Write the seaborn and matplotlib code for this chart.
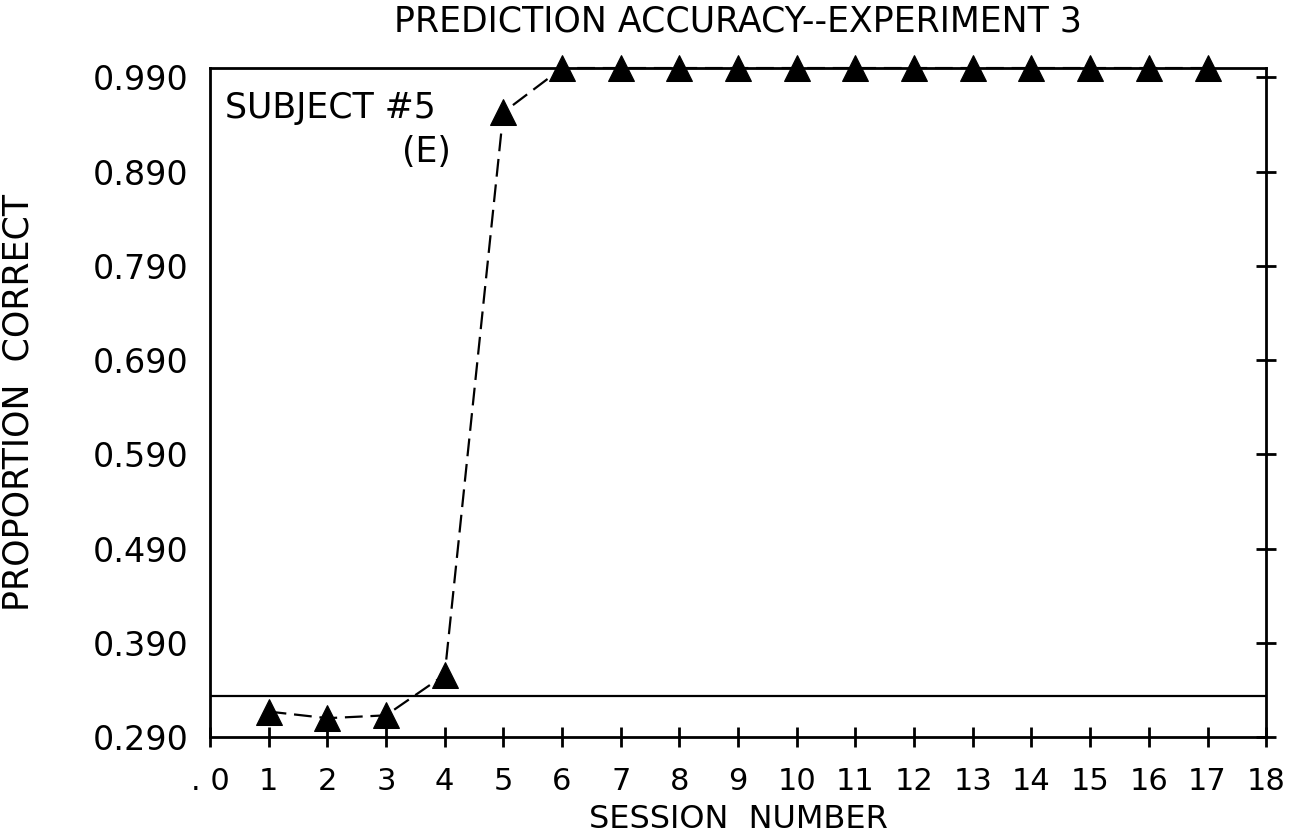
import matplotlib
matplotlib.use("Agg")
import matplotlib.pyplot as plt
import seaborn as sns
import numpy as np
import pandas as pd

# Session-by-session prediction accuracy for subject #5
sessions = [1, 2, 3, 4, 5, 6, 7, 8, 9, 10, 11, 12, 13, 14, 15, 16, 17]
proportion = [0.317, 0.310, 0.313, 0.356, 0.953, 1.0, 1.0, 1.0, 1.0, 1.0,
              1.0, 1.0, 1.0, 1.0, 1.0, 1.0, 1.0]
chance_level = 1 / 3

x_ticks = list(range(0, 19))
x_tick_labels = [". 0"] + [str(i) for i in range(1, 19)]
y_ticks = [0.29, 0.39, 0.49, 0.59, 0.69, 0.79, 0.89, 0.99]
y_tick_labels = ["0.290", "0.390", "0.490", "0.590", "0.690", "0.790", "0.890", "0.990"]

sns.set_style("white")
plt.rcParams["font.family"] = ["DejaVu Sans"]
plt.rcParams["text.color"] = "black"
plt.rcParams["axes.labelcolor"] = "black"

df = pd.DataFrame({"session": sessions, "proportion": proportion})

fig = plt.figure(figsize=(12.96, 8.40), dpi=100)
ax = fig.add_axes([0.162, 0.1226, 0.815, 0.7964])

sns.lineplot(data=df, x="session", y="proportion", ax=ax, color="black",
             linewidth=1.6, linestyle=(0, (8, 3.5)), marker="^", markersize=19,
             markeredgecolor="black", markerfacecolor="black", clip_on=False)

ax.axhline(chance_level, color="black", linewidth=1.6)

ax.set_xlim(0, 18)
ax.set_ylim(0.29, 1.0)
ax.set_xticks(x_ticks)
ax.set_xticklabels(x_tick_labels)
ax.set_yticks(y_ticks)
ax.set_yticklabels(y_tick_labels)

for side in ["left", "right", "top", "bottom"]:
    ax.spines[side].set_visible(True)
    ax.spines[side].set_color("black")
    ax.spines[side].set_linewidth(2.0)

ax.tick_params(axis="both", direction="inout", length=15, width=2.0, colors="black")
ax.tick_params(axis="y", right=True, labelright=False, labelsize=24, pad=8)
ax.tick_params(axis="x", bottom=True, top=False, labelsize=22, pad=14)

ax.set_xlabel("SESSION  NUMBER", fontsize=23, labelpad=6)
ax.set_ylabel("PROPORTION  CORRECT", fontsize=25)
ax.yaxis.set_label_coords(-0.165, 0.5)
ax.set_title("PREDICTION ACCURACY--EXPERIMENT 3", fontsize=25, pad=26)

ax.text(0.25, 0.958, "SUBJECT #5", fontsize=25, ha="left", va="center")
ax.text(4.1, 0.911, "(E)", fontsize=25, ha="right", va="center")

fig.savefig("out.png", dpi=100, facecolor="white")
